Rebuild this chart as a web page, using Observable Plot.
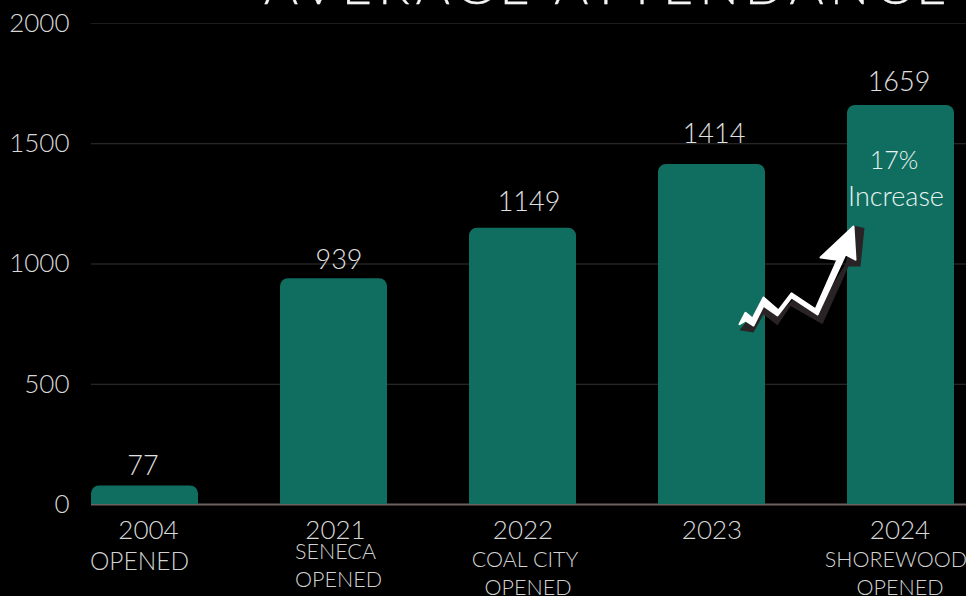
<!DOCTYPE html>
<html><head><meta charset="utf-8">
<script src="https://cdn.jsdelivr.net/npm/d3@7"></script>
<script src="https://cdn.jsdelivr.net/npm/@observablehq/plot@0.6"></script>
<style>
html,body{margin:0;background:#000;overflow:hidden;width:966px;height:596px}
#wrap{position:relative;width:966px;height:596px}
#title{position:absolute;left:264px;top:-47px;font:300 52px Lato,sans-serif;letter-spacing:6.1px;color:#f4f4f4;white-space:nowrap;-webkit-text-stroke:0.3px #f4f4f4}
svg{position:absolute;left:0;top:0;overflow:visible}
</style></head><body>
<div id="wrap"><div id="title">AVERAGE ATTENDANCE</div></div>
<script>
const years = ["2004","2021","2022","2023","2024"];
const attendance = [77,939,1149,1414,1659];
const yTicks = [0,500,1000,1500,2000];
const arrowPx = [739,745,752,763,778,791,815,837,820,853,855,845,817,791,777,763,753,745];
const arrowVal = [750,797,773,861,807,878,811,1018,1027,1156,1018,1040,790,861,786,827,744,765];
const shadowPx = [739,748,765,778,792,815,845,853,864,860,848,822,790,777,763,753];
const shadowVal = [725,770,825,790,850,800,1000,1160,1150,990,990,750,825,745,790,715];
const FONT = "Lato, sans-serif";
const labelFill = "#d2d2d2";
const sub = (text, year, dx, dy, fontSize = 21.5) =>
  Plot.text([text],{x:()=>year,y:0,dx,dy,text:d=>d,fontSize,fill:labelFill});
const tickShift = [3.5,1.5,0,0,-1];
const valueShift = [-2,5,6,2,-2];
const valueLift = [-20,-18,-26,-30,-23];
const chart = Plot.plot({
  width:966,height:596,marginTop:23,marginBottom:92,marginLeft:91,marginRight:0,
  style:{background:"#000",fontFamily:FONT,fontWeight:300,color:"#d8d8d8"},
  x:{type:"band",domain:years,range:[7.5,1037.5],padding:0.435,axis:null},
  y:{domain:[0,2000],axis:null},
  marks:[
    Plot.ruleY(yTicks.filter(d=>d>0),{stroke:d=>d===2000?"#1c1c1c":"#333"}),
    Plot.ruleY([0],{stroke:"#6f635e",strokeWidth:2}),
    Plot.barY(years,{x:d=>d,y:(d,i)=>attendance[i],fill:"#106e60",ry1:8}),
    Plot.axisY({ticks:yTicks,tickSize:0,tickPadding:22,fontSize:26,tickFormat:d=>String(d),label:null,fontWeight:300}),
    ...years.map((yr,i)=>Plot.text([yr],{x:d=>d,y:0,dy:26,dx:tickShift[i],text:d=>d,fontSize:26,fill:"#d8d8d8"})),
    ...years.map((yr,i)=>Plot.text([yr],{x:d=>d,y:()=>attendance[i],dy:valueLift[i],dx:valueShift[i],text:()=>String(attendance[i]),fontSize:27,fill:"#e0e0e0"})),
    sub("OPENED","2004",-5.5,58,24.5),
    sub("SENECA","2021",1.5,48),
    sub("OPENED","2021",4.5,76),
    sub("COAL CITY","2022",2,56),
    sub("OPENED","2022",5,84),
    sub("SHOREWOOD","2024",-5,56),
    sub("OPENED","2024",-1,84),
    Plot.text(["17%"],{x:()=>"2024",y:1500,dy:17,dx:-7,text:d=>d,fontSize:25,fill:"#e8f2f0"}),
    Plot.text(["Increase"],{x:()=>"2024",y:1500,dy:54,dx:-5,text:d=>d,fontSize:27,fill:"#e8f2f0"}),
    Plot.line(shadowPx,{x:{value:d=>d,scale:null},y:(d,i)=>shadowVal[i],z:null,dx:-53.5,stroke:"none",fill:"#2a2325",curve:"linear-closed"}),
    Plot.line(arrowPx,{x:{value:d=>d,scale:null},y:(d,i)=>arrowVal[i],z:null,dx:-53.5,stroke:"#fff",strokeWidth:2,fill:"#fff",curve:"linear-closed"})
  ]
});
document.getElementById("wrap").prepend(chart);
</script>
</body></html>
